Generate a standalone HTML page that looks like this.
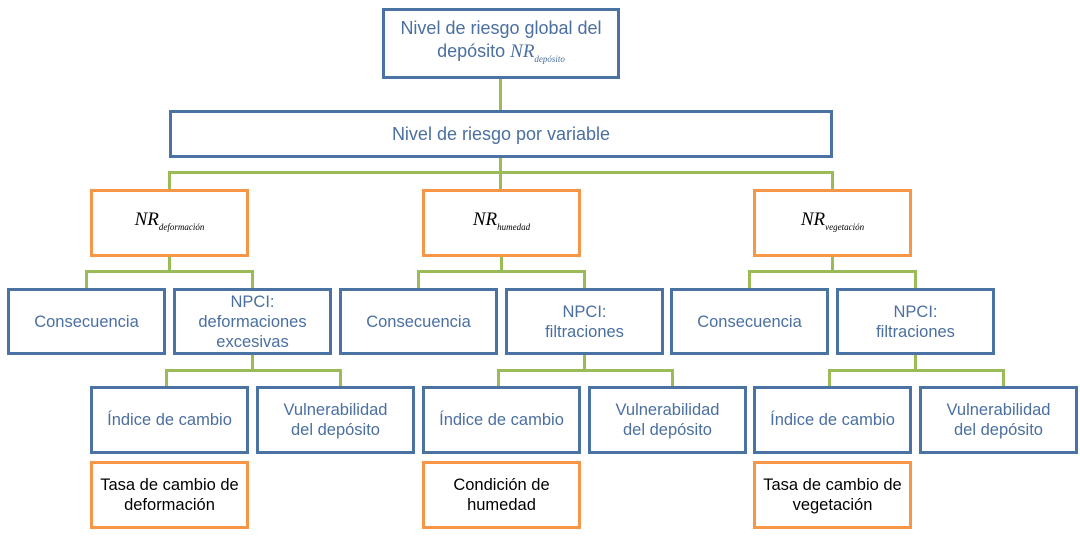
<!DOCTYPE html>
<html><head><meta charset="utf-8"><style>
body{margin:0;width:1080px;height:537px;background:#fff;position:relative;overflow:hidden;font-family:"Liberation Sans",sans-serif}
.b{position:absolute;box-sizing:border-box;border:3px solid #4a72a2;background:#fff;display:flex;align-items:center;justify-content:center;text-align:center;color:#4a6fa0;font-size:16.5px;line-height:20px}
.o{border-color:#f79646;color:#000}
.l{position:absolute;background:#9bbb59}
.nr{font-family:"Liberation Serif",serif;font-style:italic;color:#000;font-size:19px}
.nr sub{font-size:9px;vertical-align:-5px}
</style></head><body>
<div class="l" style="left:499px;top:78px;width:3px;height:32px"></div>
<div class="l" style="left:499px;top:157px;width:3px;height:32px"></div>
<div class="l" style="left:168px;top:171px;width:666px;height:3px"></div>
<div class="l" style="left:168px;top:171px;width:3px;height:18px"></div>
<div class="l" style="left:831px;top:171px;width:3px;height:18px"></div>

<div class="b" style="left:382px;top:8px;width:238px;height:71px;font-size:18px;line-height:23px"><span>Nivel de riesgo global del<br>depósito <span class="nr" style="color:#4a6fa0">NR<sub>depósito</sub></span></span></div>
<div class="b" style="left:169px;top:110px;width:664px;height:48px;font-size:18px">Nivel de riesgo por variable</div>

<div id="g"></div>
<script>
var groups=[{dx:0,nr:"deformación",npci:"NPCI:<br>deformaciones<br>excesivas",bot:"Tasa de cambio de<br>deformación"},
{dx:332,nr:"humedad",npci:"NPCI:<br>filtraciones",bot:"Condición de<br>humedad"},
{dx:663,nr:"vegetación",npci:"NPCI:<br>filtraciones",bot:"Tasa de cambio de<br>vegetación"}];
var h="";
groups.forEach(function(g){var d=g.dx;
h+='<div class="l" style="left:'+(168+d)+'px;top:256px;width:3px;height:16px"></div>';
h+='<div class="l" style="left:'+(85+d)+'px;top:270px;width:169px;height:3px"></div>';
h+='<div class="l" style="left:'+(85+d)+'px;top:270px;width:3px;height:18px"></div>';
h+='<div class="l" style="left:'+(251+d)+'px;top:270px;width:3px;height:18px"></div>';
h+='<div class="l" style="left:'+(251+d)+'px;top:354px;width:3px;height:17px"></div>';
h+='<div class="l" style="left:'+(165+d)+'px;top:369px;width:177px;height:3px"></div>';
h+='<div class="l" style="left:'+(165+d)+'px;top:369px;width:3px;height:17px"></div>';
h+='<div class="l" style="left:'+(339+d)+'px;top:369px;width:3px;height:17px"></div>';
h+='<div class="b o" style="left:'+(90+d)+'px;top:189px;width:159px;height:68px"><span class="nr">NR<sub>'+g.nr+'</sub></span></div>';
h+='<div class="b" style="left:'+(7+d)+'px;top:288px;width:159px;height:67px"><span>Consecuencia</span></div>';
h+='<div class="b" style="left:'+(173+d)+'px;top:288px;width:159px;height:67px"><span>'+g.npci+'</span></div>';
h+='<div class="b" style="left:'+(90+d)+'px;top:386px;width:159px;height:68px"><span>Índice de cambio</span></div>';
h+='<div class="b" style="left:'+(256+d)+'px;top:386px;width:159px;height:68px"><span>Vulnerabilidad<br>del depósito</span></div>';
h+='<div class="b o" style="left:'+(90+d)+'px;top:461px;width:159px;height:68px"><span>'+g.bot+'</span></div>';
});
document.getElementById("g").innerHTML=h;
</script>
</body></html>
